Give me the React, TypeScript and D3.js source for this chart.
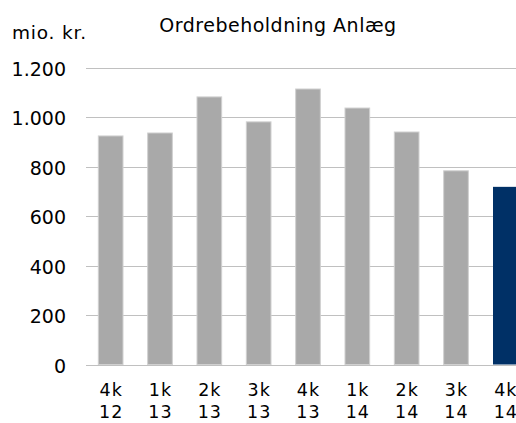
import React, { useEffect, useRef } from "react";
import * as d3 from "d3";

const quarters = ["4k", "1k", "2k", "3k", "4k", "1k", "2k", "3k", "4k"];
const years = ["12", "13", "13", "13", "13", "14", "14", "14", "14"];
const values = [925, 937, 1083, 982, 1115, 1038, 941, 784, 719];
const yTicks = [0, 200, 400, 600, 800, 1000, 1200];

const fmt = (v: number) => d3.format(",")(v).replace(/,/g, ".");

export default function App() {
  const ref = useRef<SVGSVGElement>(null);

  useEffect(() => {
    const w = 516;
    const h = 423;
    const left = 86;
    const right = 530;
    const top = 68;
    const bottom = 364.5;
    const font = "DejaVu Sans, Verdana, sans-serif";

    const svg = d3.select(ref.current);
    svg.selectAll("*").remove();

    const idx = values.map((_, i) => String(i));
    const x = d3.scaleBand().domain(idx).range([left, right]).paddingInner(0.5).paddingOuter(0.25);
    const y = d3.scaleLinear().domain([0, 1200]).range([bottom, top]);

    // Gridlines
    svg
      .append("g")
      .selectAll("line")
      .data(yTicks)
      .join("line")
      .attr("x1", left)
      .attr("x2", w)
      .attr("y1", d => Math.round(y(d)) + 0.5)
      .attr("y2", d => Math.round(y(d)) + 0.5)
      .attr("stroke", "#c0c0c0")
      .attr("stroke-width", 1);

    // y tick labels
    svg
      .append("g")
      .selectAll("text")
      .data(yTicks)
      .join("text")
      .attr("x", 66)
      .attr("y", d => y(d) + 8)
      .attr("text-anchor", "end")
      .attr("font-family", font)
      .attr("font-size", 19)
      .attr("fill", "#000")
      .text(d => fmt(d));

    // Bars
    svg
      .append("g")
      .selectAll("rect")
      .data(values)
      .join("rect")
      .attr("x", (_, i) => x(String(i))!)
      .attr("y", d => y(d))
      .attr("width", x.bandwidth())
      .attr("height", d => bottom - y(d))
      .attr("fill", (_, i) => (i === values.length - 1 ? "#003066" : "#a9a9a9"))
      .attr("stroke", (_, i) => (i === values.length - 1 ? "none" : "#d0d0d0"))
      .attr("stroke-width", 1);

    // x labels
    const xl = svg
      .append("g")
      .selectAll("text")
      .data(quarters)
      .join("text")
      .attr("text-anchor", "middle")
      .attr("font-family", font)
      .attr("font-size", 17.5)
      .attr("letter-spacing", 1)
      .attr("fill", "#000");
    xl.append("tspan")
      .attr("x", (_, i) => x(String(i))! + x.bandwidth() / 2 + 0.5)
      .attr("y", 396)
      .text(d => d);
    xl.append("tspan")
      .attr("x", (_, i) => x(String(i))! + x.bandwidth() / 2 + 0.5)
      .attr("y", 418)
      .text((_, i) => years[i]);

    // Title
    svg
      .append("text")
      .attr("x", 278)
      .attr("y", 32)
      .attr("text-anchor", "middle")
      .attr("font-family", font)
      .attr("font-size", 19)
      .attr("letter-spacing", 0.5)
      .attr("fill", "#000")
      .text("Ordrebeholdning Anlæg");

    // y-axis unit
    svg
      .append("text")
      .attr("x", 12)
      .attr("y", 39)
      .attr("font-family", font)
      .attr("font-size", 18.5)
      .attr("letter-spacing", 0.8)
      .attr("fill", "#000")
      .text("mio. kr.");

    svg.attr("width", w).attr("height", h);
  }, []);

  return (
    <svg
      ref={ref}
      width={516}
      height={423}
      style={{ position: "absolute", left: 0, top: 0, background: "#fff" }}
    />
  );
}
